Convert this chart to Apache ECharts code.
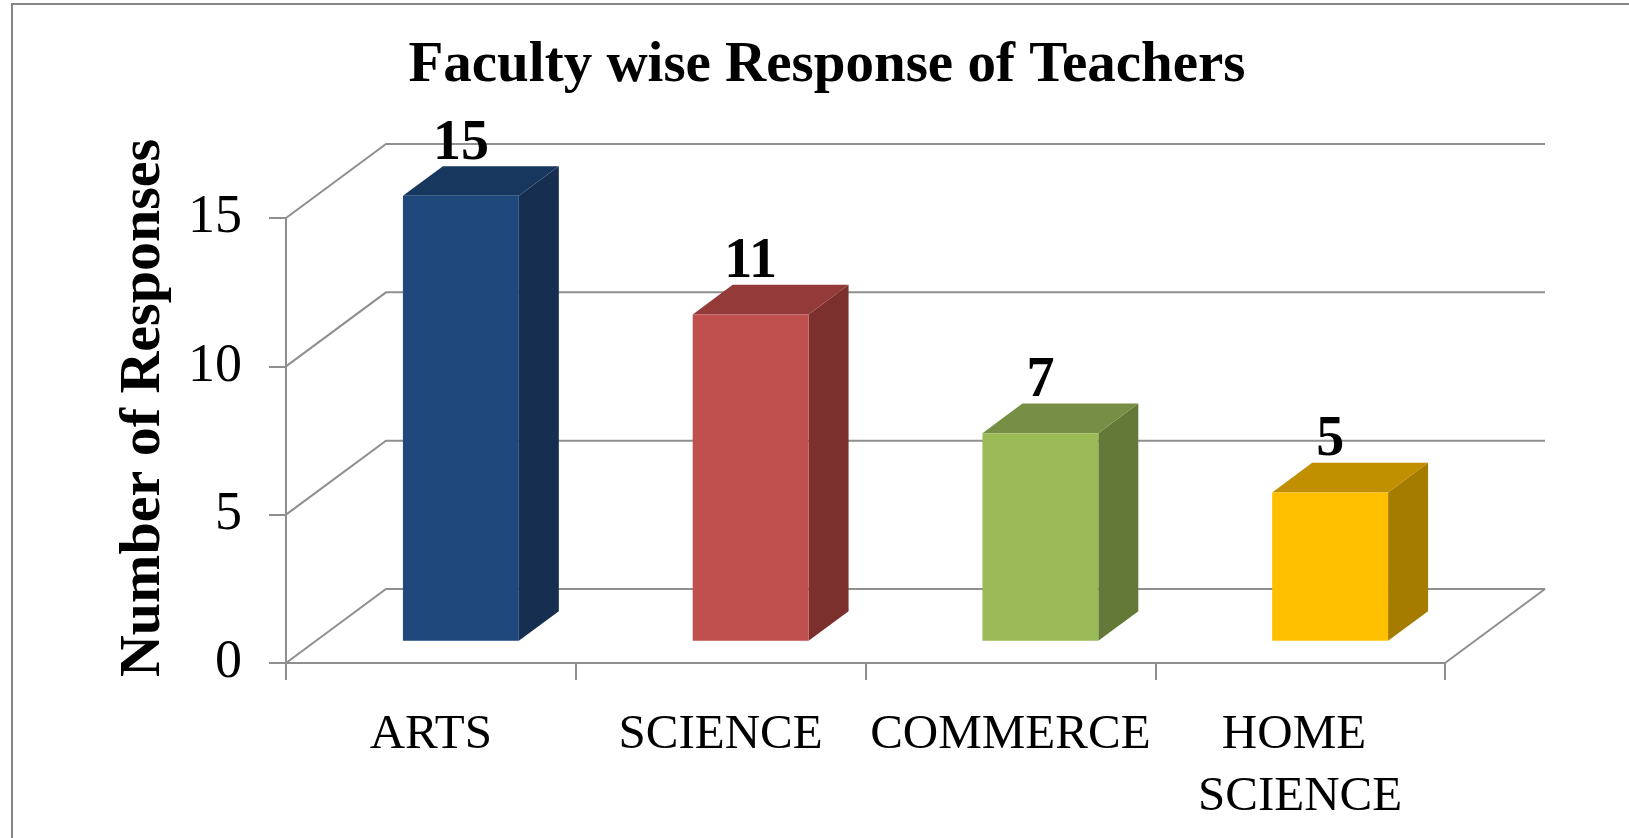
<!DOCTYPE html>
<html>
<head>
<meta charset="utf-8">
<script src="https://cdn.jsdelivr.net/npm/echarts@6/dist/echarts.min.js"></script>
<style>
html,body{margin:0;padding:0;background:#fff;}
#chart{width:1629px;height:838px;}
</style>
</head>
<body>
<div id="chart"></div>
<script>
// ---- data ----
const categories = ['ARTS', 'SCIENCE', 'COMMERCE', 'HOME SCIENCE'];
const responses = [15, 11, 7, 5];
const yTicks = [0, 5, 10, 15];

// ---- styles ----
const faceColors = [
  { front: '#1F497D', top: '#18375E', side: '#162F50' },
  { front: '#C0504D', top: '#943B3A', side: '#7C302E' },
  { front: '#9BBB59', top: '#778F44', side: '#647937' },
  { front: '#FFC000', top: '#C09000', side: '#A67C00' }
];
const DX = 100, DY = -74;          // depth vector of the 3D floor
const gridColor = '#8f8f8f';
const serif = '"Liberation Serif", "DejaVu Serif", serif';

const chart = echarts.init(document.getElementById('chart'), null, { renderer: 'canvas' });

const option = {
  backgroundColor: '#ffffff',
  animation: false,
  title: {
    text: 'Faculty wise Response of Teachers',
    left: 822,
    textAlign: 'center',
    top: 33,
    textStyle: { fontFamily: serif, fontWeight: 'bold', fontSize: 57, color: '#000' }
  },
  graphic: [
    {
      type: 'rect',
      shape: { x: 12, y: 4, width: 1700, height: 900 },
      style: { fill: 'none', stroke: '#868686', lineWidth: 2 },
      silent: true, z: -10
    },
    {
      type: 'text',
      x: 144, y: 408,
      rotation: Math.PI / 2,
      style: {
        text: 'Number of Responses',
        fontFamily: serif, fontWeight: 'bold', fontSize: 58, fill: '#000',
        align: 'center', verticalAlign: 'middle'
      }
    }
  ],
  grid: { left: 286, right: 184, top: 218, bottom: 175, containLabel: false },
  xAxis: {
    type: 'category',
    data: categories,
    boundaryGap: true,
    axisLine: { show: true, lineStyle: { color: gridColor, width: 2 } },
    axisTick: { show: true, length: 17, lineStyle: { color: gridColor, width: 2 } },
    axisLabel: {
      fontFamily: serif, fontSize: 49, color: '#000', margin: 41,
      lineHeight: 62, width: 290, overflow: 'break', interval: 0
    },
    splitLine: { show: false }
  },
  yAxis: {
    type: 'value',
    min: 0, max: 15, interval: 5,
    axisLine: { show: true, lineStyle: { color: gridColor, width: 2 } },
    axisTick: { show: true, length: 17, lineStyle: { color: gridColor, width: 2 } },
    axisLabel: { fontFamily: serif, fontSize: 54, color: '#000', margin: 44 },
    splitLine: { show: false }
  },
  series: [
    {
      type: 'custom',
      name: 'walls',
      silent: true,
      z: 1,
      data: yTicks.map(v => [0, v]),
      renderItem: function (params, api) {
        const cs = params.coordSys;
        const x0 = cs.x, x1 = cs.x + cs.width;
        const v = api.value(1);
        const y = api.coord([0, v])[1];
        const children = [{
          type: 'polyline',
          shape: { points: [[x0, y], [x0 + DX, y + DY], [x1 + DX, y + DY]] },
          style: { stroke: gridColor, lineWidth: 2, fill: null }
        }];
        if (v === 0) {
          children.push({
            type: 'line',
            shape: { x1: x1, y1: y, x2: x1 + DX, y2: y + DY },
            style: { stroke: gridColor, lineWidth: 2 }
          });
        }
        return { type: 'group', children: children };
      }
    },
    {
      type: 'custom',
      name: 'Responses',
      z: 2,
      data: responses.map((v, i) => [i, v]),
      renderItem: function (params, api) {
        const i = api.value(0), v = api.value(1);
        const base = api.coord([i, 0]);
        const top = api.coord([i, v]);
        const bw = api.size([1, 0])[0];
        const w = bw * 0.4;
        const fx = base[0] + 0.3 * DX - w / 2;   // front face left
        const fb = base[1] + 0.3 * DY;           // front face bottom
        const ft = top[1] + 0.3 * DY;            // front face top
        const ddx = 0.4 * DX, ddy = 0.4 * DY;    // bar depth
        const c = faceColors[i % faceColors.length];
        return {
          type: 'group',
          children: [
            {
              type: 'polygon',
              shape: { points: [[fx + w, ft], [fx + w + ddx, ft + ddy], [fx + w + ddx, fb + ddy], [fx + w, fb]] },
              style: { fill: c.side }
            },
            {
              type: 'polygon',
              shape: { points: [[fx, ft], [fx + ddx, ft + ddy], [fx + w + ddx, ft + ddy], [fx + w, ft]] },
              style: { fill: c.top }
            },
            {
              type: 'rect',
              shape: { x: fx, y: ft, width: w, height: fb - ft },
              style: { fill: c.front }
            },
            {
              type: 'text',
              x: fx + w / 2, y: ft + ddy + 6,
              style: {
                text: String(v),
                fontFamily: serif, fontWeight: 'bold', fontSize: 56, fill: '#000',
                align: 'center', verticalAlign: 'bottom'
              }
            }
          ]
        };
      }
    }
  ]
};

chart.setOption(option);
</script>
</body>
</html>
